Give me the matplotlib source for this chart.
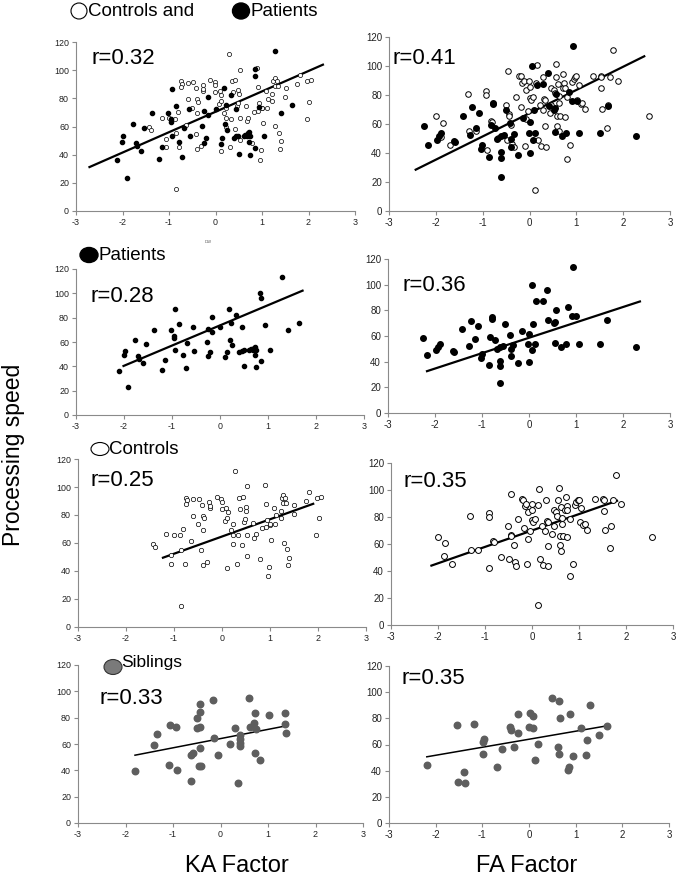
import matplotlib
matplotlib.use('Agg')
import matplotlib.pyplot as plt
from matplotlib.patches import Ellipse

plt.rcParams['font.family'] = ['Liberation Sans', 'DejaVu Sans']
plt.rcParams['axes.unicode_minus'] = False

# ---- data ----
# patients, KA factor
pat_ka_x = [-2.11, -2.01, -1.98, -1.91, -1.77, -1.70, -1.68, -1.60, -1.54, -1.37,
            -1.21, -1.14, -1.03, -0.96, -0.95, -0.94, -0.93, -0.85, -0.78, -0.71,
            -0.68, -0.57, -0.54, -0.28, -0.24, -0.21, -0.24, -0.17, -0.16, 0.01,
            0.11, 0.14, 0.19, 0.21, 0.22, 0.24, 0.34, 0.40, 0.45, 0.45,
            0.49, 0.50, 0.61, 0.64, 0.68, 0.70, 0.72, 0.72, 0.75, 0.74,
            0.84, 0.86, 0.85, 0.94, 1.04, 1.29, 1.41, 1.65]
pat_ka_y = [36.4, 49.3, 52.9, 23.3, 61.6, 48.5, 45.8, 42.5, 58.6, 69.6,
            37.0, 45.5, 69.6, 65.2, 63.0, 53.2, 86.8, 74.8, 49.0, 38.4,
            59.2, 72.6, 52.9, 60.3, 48.5, 51.5, 70.7, 80.8, 67.9, 72.1,
            47.4, 51.5, 87.4, 61.9, 75.3, 57.3, 82.2, 51.5, 72.3, 52.9,
            53.2, 40.3, 53.4, 54.2, 53.4, 55.1, 56.2, 49.3, 53.4, 39.7,
            100.5, 95.9, 44.7, 73.7, 53.4, 113.7, 69.6, 75.3]

# patients, FA factor
pat_fa_x = [-2.25, -2.17, -1.97, -1.93, -1.90, -1.61, -1.60, -1.42, -1.27, -1.23,
            -1.15, -1.08, -1.01, -1.03, -0.86, -0.83, -0.78, -0.78, -0.73, -0.69,
            -0.61, -0.61, -0.61, -0.61, -0.55, -0.51, -0.41, -0.39, -0.39, -0.34,
            -0.24, -0.14, -0.02, 0.00, 0.00, 0.06, 0.07, 0.09, 0.12, 0.15,
            0.29, 0.39, 0.41, 0.53, 0.55, 0.55, 0.57, 0.69, 0.79, 0.84,
            0.91, 0.93, 1.01, 1.06, 1.51, 1.67, 2.27]
pat_fa_y = [58.4, 45.4, 49.0, 51.7, 53.5, 48.5, 47.7, 65.2, 52.4, 71.7,
            57.4, 67.6, 45.7, 42.5, 37.3, 59.5, 74.6, 73.6, 56.9, 49.6,
            51.7, 40.7, 36.5, 23.5, 52.2, 69.7, 60.5, 49.6, 44.4, 53.0,
            38.6, 63.9, 53.5, 61.6, 39.7, 99.7, 49.0, 69.7, 53.5, 86.9,
            87.4, 95.5, 72.5, 69.9, 71.0, 54.8, 80.4, 51.4, 53.5, 82.4,
            75.7, 113.7, 75.7, 53.5, 53.5, 72.5, 51.4]

# controls, KA factor
con_ka_x = [-1.44, -1.39, -1.16, -1.07, -1.06, -1.00, -0.87, -0.85, -0.86, -0.81,
            -0.78, -0.74, -0.72, -0.74, -0.64, -0.60, -0.60, -0.51, -0.48, -0.43,
            -0.41, -0.40, -0.38, -0.40, -0.40, -0.31, -0.27, -0.26, -0.26, -0.11,
            -0.02, -0.01, -0.01, 0.07, 0.09, 0.11, 0.11, 0.12, 0.19, 0.22,
            0.22, 0.23, 0.28, 0.31, 0.34, 0.35, 0.38, 0.43, 0.42, 0.46,
            0.48, 0.49, 0.50, 0.53, 0.53, 0.53, 0.65, 0.67, 0.70, 0.79,
            0.83, 0.90, 0.92, 0.92, 0.97, 0.95, 0.94, 0.99, 1.01, 1.03,
            1.08, 1.10, 1.13, 1.22, 1.22, 1.24, 1.28, 1.27, 1.29, 1.32,
            1.34, 1.36, 1.40, 1.38, 1.50, 1.51, 1.75, 1.81, 1.96, 1.97,
            2.02, 2.06]
con_ka_y = [59.5, 57.4, 66.2, 51.4, 45.2, 65.7, 65.5, 55.2, 15.3, 70.3,
            45.2, 92.5, 90.4, 88.0, 61.4, 91.1, 79.4, 73.4, 91.3, 55.0,
            87.3, 79.4, 77.7, 69.3, 44.2, 46.1, 89.6, 85.3, 86.5, 93.2,
            91.6, 89.6, 84.2, 75.8, 85.3, 78.2, 42.3, 82.5, 69.3, 65.7,
            59.3, 73.4, 111.6, 45.2, 65.5, 92.0, 84.4, 93.2, 58.3, 74.8,
            77.0, 85.6, 83.0, 50.7, 100.4, 66.0, 74.3, 63.8, 66.2, 48.5,
            70.5, 101.4, 88.0, 71.2, 43.0, 36.3, 76.7, 72.9, 73.4, 62.4,
            85.3, 73.4, 79.8, 83.2, 78.2, 92.0, 94.4, 88.5, 60.2, 92.5,
            88.5, 55.5, 49.5, 44.2, 81.0, 87.5, 90.1, 96.3, 65.5, 92.5,
            77.7, 93.2]

# controls, FA factor
con_fa_x = [-1.99, -1.85, -1.88, -1.70, -1.32, -1.29, -1.14, -0.92, -0.92, -0.91,
            -0.83, -0.81, -0.67, -0.51, -0.48, -0.45, -0.44, -0.44, -0.39, -0.37,
            -0.34, -0.29, -0.22, -0.19, -0.18, -0.15, -0.12, -0.10, -0.08, -0.08,
            -0.04, -0.01, 0.01, 0.00, 0.03, 0.07, 0.13, 0.12, 0.15, 0.18,
            0.22, 0.24, 0.28, 0.29, 0.31, 0.33, 0.35, 0.34, 0.43, 0.46,
            0.46, 0.52, 0.54, 0.56, 0.57, 0.59, 0.59, 0.62, 0.61, 0.63,
            0.64, 0.65, 0.71, 0.72, 0.74, 0.75, 0.75, 0.80, 0.80, 0.87,
            0.91, 0.94, 0.97, 1.00, 1.02, 1.05, 1.09, 1.12, 1.18, 1.35,
            1.52, 1.53, 1.53, 1.55, 1.65, 1.68, 1.72, 1.79, 1.89, 2.56]
con_fa_y = [65.3, 60.4, 51.0, 45.5, 80.4, 55.4, 55.4, 82.9, 79.7, 42.3,
            62.1, 61.6, 50.5, 73.2, 48.7, 96.7, 66.6, 65.6, 59.1, 46.3,
            43.8, 78.4, 93.0, 92.8, 71.5, 88.3, 89.8, 45.0, 83.4, 63.6,
            69.3, 89.8, 85.4, 77.7, 76.4, 78.4, 88.6, 14.8, 100.7, 49.2,
            73.0, 44.5, 70.0, 92.5, 77.4, 58.4, 44.0, 76.4, 67.3, 73.0,
            84.9, 83.4, 81.1, 92.5, 101.2, 65.6, 58.9, 54.9, 87.3, 79.4,
            74.5, 65.6, 85.1, 94.8, 88.1, 85.1, 65.1, 78.4, 36.1, 45.3,
            89.1, 91.3, 92.3, 92.8, 76.4, 86.8, 74.0, 74.7, 70.5, 93.3,
            93.0, 92.5, 84.6, 70.3, 56.9, 73.2, 92.5, 111.3, 89.6, 65.3]

# siblings
sib_ka_x = [-1.80, -1.39, -1.34, -1.08, -1.06, -0.93, -0.91, -0.63, -0.62, -0.58,
            -0.50, -0.49, -0.46, -0.43, -0.43, -0.43, -0.43, -0.42, -0.16, -0.14,
            -0.05, 0.19, 0.31, 0.36, 0.40, 0.40, 0.40, 0.42, 0.60, 0.63,
            0.70, 0.72, 0.73, 0.74, 0.83, 1.02, 1.36, 1.36, 1.38]
sib_ka_y = [39.3, 59.6, 67.3, 44.4, 74.4, 72.8, 40.6, 31.7, 51.3, 53.3,
            79.9, 72.3, 43.1, 72.8, 56.6, 84.5, 90.1, 43.1, 93.4, 64.2,
            52.0, 60.2, 72.3, 30.5, 63.5, 60.9, 58.4, 67.0, 95.2, 72.8,
            76.1, 83.2, 53.3, 71.1, 48.2, 82.0, 83.2, 74.9, 68.5]
sib_fa_x = [-2.19, -1.54, -1.52, -1.39, -1.37, -1.18, -0.99, -0.98, -0.96, -0.69,
            -0.58, -0.41, -0.39, -0.32, -0.24, -0.24, 0.02, 0.01, 0.08, 0.09,
            0.13, 0.19, 0.49, 0.62, 0.64, 0.64, 0.66, 0.87, 0.84, 0.86,
            0.94, 1.11, 1.22, 1.24, 1.31, 1.50, 1.68]
sib_fa_y = [44.2, 74.8, 31.5, 39.2, 30.3, 76.0, 53.1, 61.8, 64.1, 43.0,
            56.4, 73.0, 71.2, 58.2, 83.1, 68.7, 84.4, 73.0, 72.5, 81.9,
            48.1, 60.3, 95.3, 58.2, 93.6, 53.1, 80.1, 83.1, 40.4, 43.0,
            51.4, 72.5, 51.9, 63.6, 90.3, 67.1, 74.2]

# regression lines (end points)
fit_ka_all = ([-2.71, 2.31], [31.2, 103.9])
fit_fa_all = ([-2.43, 2.45], [28.5, 106.7])
fit_ka_pat = ([-2.01, 1.72], [40.3, 102.2])
fit_fa_pat = ([-2.17, 2.36], [32.6, 86.9])
fit_ka_con = ([-1.23, 1.90], [49.5, 88.0])
fit_fa_con = ([-2.14, 1.81], [44.0, 92.0])
fit_ka_sib = ([-1.80, 1.40], [51.5, 73.9])
fit_fa_sib = ([-2.19, 1.66], [50.6, 74.2])

r_labels = ['r=0.32', 'r=0.41', 'r=0.28', 'r=0.36',
            'r=0.25', 'r=0.35', 'r=0.33', 'r=0.35']

x_ticks = [-3, -2, -1, 0, 1, 2, 3]
x_tick_labels = ['-3', '-2', '-1', '0', '1', '2', '3']
y_ticks = [0, 20, 40, 60, 80, 100, 120]

W, H = 677, 877
fig = plt.figure(figsize=(W / 100, H / 100), dpi=100)

# overlay in pixel coords for the loose labels
lab = fig.add_axes([0, 0, 1, 1])
lab.set_xlim(0, W)
lab.set_ylim(H, 0)
lab.axis('off')


def panel(x0, x1, ytop, ybot, tsize):
    ax = fig.add_axes([x0 / W, 1 - ybot / H, (x1 - x0) / W, (ybot - ytop) / H])
    ax.set_facecolor('none')
    ax.set_xlim(-3, 3)
    ax.set_ylim(0, 120)
    ax.set_xticks(x_ticks)
    ax.set_xticklabels(x_tick_labels)
    ax.set_yticks(y_ticks)
    ax.spines['top'].set_visible(False)
    ax.spines['right'].set_visible(False)
    for s in ['left', 'bottom']:
        ax.spines[s].set_color('#8a8a8a')
        ax.spines[s].set_linewidth(0.8)
    ax.tick_params(length=3, width=0.8, color='#8a8a8a', labelsize=tsize,
                   pad=2, labelcolor='#222222')
    return ax


# pixel boxes: x at -3, x at 3, y at 120, y at 0
boxes = [(76, 355, 42, 211), (389, 670, 37, 211),
         (76, 364, 269, 415), (388, 670, 259, 413),
         (78, 366, 459, 627), (391, 673, 463, 625),
         (78, 363, 665, 823), (389, 669, 666, 823)]
r_pos = [(0.054, 0.905), (0.011, 0.879), (0.052, 0.815), (0.053, 0.83),
         (0.045, 0.875), (0.043, 0.883), (0.074, 0.79), (0.046, 0.92)]

axs = []
for i, b in enumerate(boxes):
    axs.append(panel(*b, tsize=6.4 if i % 2 == 0 else 7.0))

# row 1: both groups
ax = axs[0]
ax.plot(*fit_ka_all, color='k', lw=1.6, zorder=1)
ax.scatter(con_ka_x, con_ka_y, s=9, facecolors='white', edgecolors='k', linewidths=0.5, zorder=2)
ax.scatter(pat_ka_x, pat_ka_y, s=9, color='k', zorder=3)
ax = axs[1]
ax.plot(*fit_fa_all, color='k', lw=1.6, zorder=1)
ax.scatter(con_fa_x, con_fa_y, s=16, facecolors='white', edgecolors='k', linewidths=0.7, zorder=2)
ax.scatter(pat_fa_x, pat_fa_y, s=16, color='k', zorder=3)

# row 2: patients
ax = axs[2]
ax.plot(*fit_ka_pat, color='k', lw=1.6, zorder=1)
ax.scatter(pat_ka_x, pat_ka_y, s=9, color='k', zorder=3)
ax = axs[3]
ax.plot(*fit_fa_pat, color='k', lw=1.6, zorder=1)
ax.scatter(pat_fa_x, pat_fa_y, s=16, color='k', zorder=3)

# row 3: controls
ax = axs[4]
ax.plot(*fit_ka_con, color='k', lw=1.6, zorder=1)
ax.scatter(con_ka_x, con_ka_y, s=10, facecolors='white', edgecolors='k', linewidths=0.5, zorder=2)
ax = axs[5]
ax.plot(*fit_fa_con, color='k', lw=1.6, zorder=1)
ax.scatter(con_fa_x, con_fa_y, s=18, facecolors='white', edgecolors='k', linewidths=0.7, zorder=2)

# row 4: siblings
ax = axs[6]
ax.plot(*fit_ka_sib, color='k', lw=1.1, zorder=1)
ax.scatter(sib_ka_x, sib_ka_y, s=22, color='#5e5e5e', zorder=2)
ax = axs[7]
ax.plot(*fit_fa_sib, color='k', lw=1.1, zorder=1)
ax.scatter(sib_fa_x, sib_fa_y, s=22, color='#5e5e5e', zorder=2)

for ax, txt, (px, py) in zip(axs, r_labels, r_pos):
    ax.text(px, py, txt, transform=ax.transAxes, fontsize=16, va='center', ha='left')

# legend-like labels
lab.add_patch(Ellipse((79, 11), 16, 16, facecolor='white', edgecolor='k', lw=0.8))
lab.text(88, 11, 'Controls and', fontsize=13.5, va='center', ha='left')
lab.add_patch(Ellipse((241, 11), 17, 16, facecolor='k', edgecolor='k'))
lab.text(250, 11, 'Patients', fontsize=13.5, va='center', ha='left')

lab.add_patch(Ellipse((89, 255), 18, 15, facecolor='k', edgecolor='k'))
lab.text(99, 255, 'Patients', fontsize=13.5, va='center', ha='left')

lab.add_patch(Ellipse((100, 449), 18, 13, facecolor='white', edgecolor='k', lw=0.8))
lab.text(109, 449, 'Controls', fontsize=13.5, va='center', ha='left')

lab.add_patch(Ellipse((113, 667), 18, 15, facecolor='#7a7a7a', edgecolor='#333333', lw=0.8))
lab.text(121, 662, 'Siblings', fontsize=12.5, va='center', ha='left')

lab.text(208, 242, 'DW', fontsize=3, va='center', ha='center', color='#555555')

lab.text(14, 455, 'Processing speed', fontsize=16.5, rotation=90, va='center', ha='center')
lab.text(237, 866, 'KA Factor', fontsize=17, va='center', ha='center')
lab.text(527, 866, 'FA Factor', fontsize=17, va='center', ha='center')

fig.savefig('out.png', dpi=100)
